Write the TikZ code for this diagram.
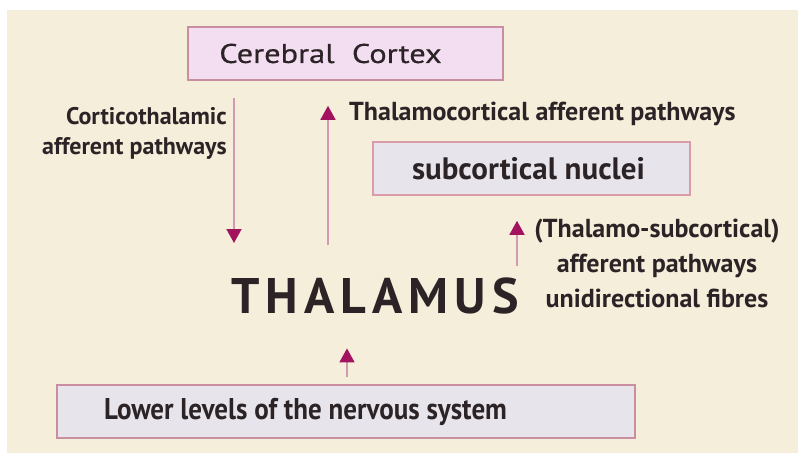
\documentclass[tikz,border=0pt]{standalone}
\usepackage{fontspec}
\setmainfont{PT Sans}
\usepackage{xcolor}
\usetikzlibrary{arrows.meta,positioning}

\definecolor{bgcream}{HTML}{F5EEDA}
\definecolor{cortexfill}{HTML}{F3DDF0}
\definecolor{boxgray}{HTML}{E7E5EB}
\definecolor{boxline}{HTML}{C98FA0}
\definecolor{arrline}{HTML}{D49AB4}
\definecolor{arrhead}{HTML}{A3125F}
\definecolor{ink}{HTML}{2B2326}

\begin{document}
\begin{tikzpicture}[
  x=1pt, y=1pt,
  panel/.style={draw=boxline, line width=1.6pt, fill=boxgray,
    minimum height=53pt, inner sep=0pt, text=ink},
  cortexbox/.style={panel, fill=cortexfill, font=\fontsize{27}{30}\selectfont\addfontfeature{FakeStretch=1.2,FakeBold=0.5}},
  nucbox/.style={panel, draw=boxline!70!pink, font=\fontsize{31}{32}\selectfont\bfseries},
  lowbox/.style={panel, font=\fontsize{30}{32}\selectfont\bfseries\addfontfeature{FakeStretch=0.9}},
  lbl/.style={text=ink, inner sep=0pt, font=\fontsize{24}{30}\selectfont\bfseries},
  arr/.style={-{Triangle[length=14pt, width=15pt, color=arrhead]}, arrline, line width=1.6pt}
]
  \useasboundingbox (0,0) rectangle (798,-453);
  \fill[bgcream] (7,-10) rectangle (798,-453);

  % Boxes
  \node[cortexbox, minimum width=315pt] (cortex) at (345.5,-53.5) {Cerebral\ \ Cortex\hspace*{30pt}};
  \node[nucbox, minimum width=317pt] (nuclei) at (531.5,-168.5) {subcortical nuclei\hspace*{6pt}};
  \node[lowbox, minimum width=578pt] (lower) at (346,-411.5) {Lower levels of the nervous system\hspace*{81pt}};

  % Thalamus
  \node[text=ink, inner sep=0pt, font=\fontsize{50}{50}\selectfont\bfseries\addfontfeature{LetterSpace=12}] (thal) at (375,-296) {THALAMUS};

  % Labels
  \node[lbl, align=right, anchor=east] (cortico) at (227,-133) {Corticothalamic\\afferent pathways};
  \node[lbl, anchor=west, font=\fontsize{26}{30}\selectfont\bfseries] (thalcort) at (349,-114) {Thalamocortical afferent pathways};
  \node[lbl, align=center, font=\fontsize{26}{35}\selectfont\bfseries] (thalsub) at (657,-263) {(Thalamo-subcortical)\\afferent pathways\\unidirectional fibres};

  % Arrows
  \coordinate (cdown) at (234,-243);
  \coordinate (cup) at (328,-245);
  \coordinate (sup) at (517,-266);
  \draw[arr] ([xshift=-111.5pt, yshift=-17pt]cortex.south) -- (cdown);
  \draw[arr] (cup) -- ([xshift=-17.5pt, yshift=-25pt]cortex.south);
  \draw[arr] (sup) -- ([xshift=-14.5pt, yshift=-25pt]nuclei.south);
  \draw[arr] ([xshift=1pt, yshift=7pt]lower.north) -- ([xshift=-28pt, yshift=-34pt]thal.south);
\end{tikzpicture}
\end{document}
